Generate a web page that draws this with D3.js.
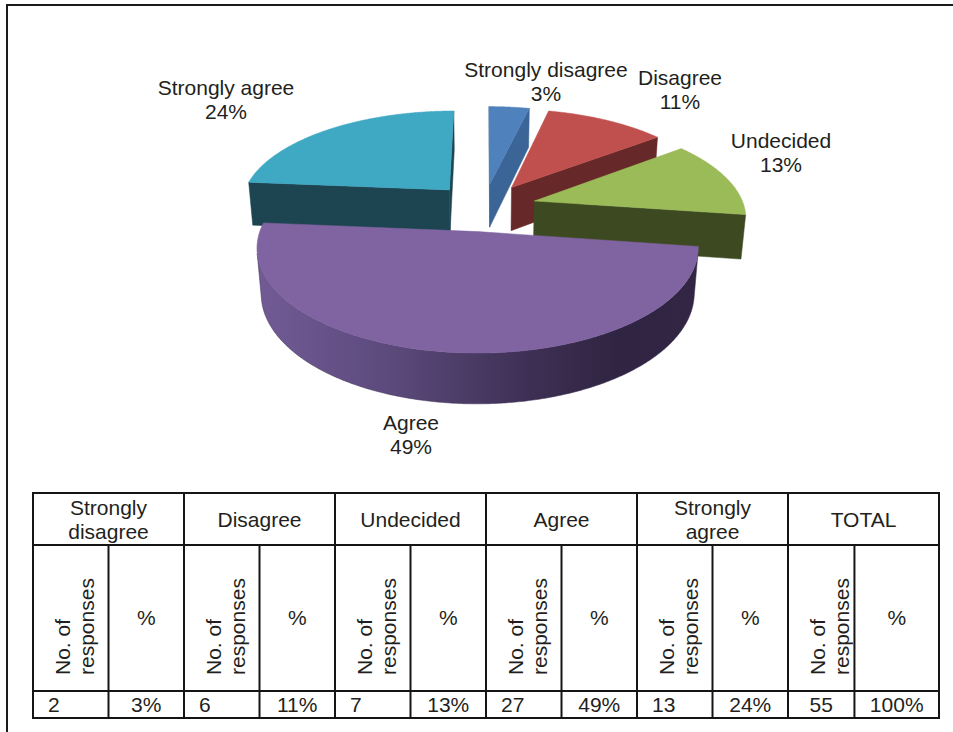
<!DOCTYPE html>
<html>
<head>
<meta charset="utf-8">
<script src="https://cdn.jsdelivr.net/npm/d3@7"></script>
<style>
  html, body { margin: 0; padding: 0; background: #fff; }
  svg { display: block; }
  text { font-family: "Liberation Sans", Arial, Helvetica, sans-serif; fill: #231f20; }
</style>
</head>
<body>
<svg id="chart" width="953" height="732"></svg>
<script>
// ---- survey data ----
const categories = ["Strongly disagree", "Disagree", "Undecided", "Agree", "Strongly agree"];
const responses = [2, 6, 7, 27, 13];
const percents = ["3%", "11%", "13%", "49%", "24%"];
const totalResponses = 55;
const totalPercent = "100%";
const headerLines = [["Strongly", "disagree"], ["Disagree"], ["Undecided"], ["Agree"], ["Strongly", "agree"], ["TOTAL"]];
const subHeaderLines = ["No. of", "responses"];

// ---- styling ----
const topFill = ["#4f81bd", "#c0504d", "#9bbb59", "#8064a2", "#3fa8c3"];
const wallFill = ["#3b6597", "#662828", "#3d4a21", "url(#agreeWall)", "#1d4451"];
const labelLayout = [[546, 77], [680, 85], [781, 148], [411, 430], [226, 95]];

const svg = d3.select("#chart");
const defs = svg.append("defs");

// outer frame (left and top rules)
svg.append("line").attr("x1", 7).attr("y1", 5).attr("x2", 953).attr("y2", 5)
  .attr("stroke", "#1a1a1a").attr("stroke-width", 2);
svg.append("line").attr("x1", 7).attr("y1", 4).attr("x2", 7).attr("y2", 732)
  .attr("stroke", "#1a1a1a").attr("stroke-width", 2);

// ---- exploded 3D pie ----
const pie = d3.pie().sort(null).value(d => d);
const arcs = pie(responses);

// perspective camera: pie plane is y = 0, z points away from the viewer
const cam = { cx: 484, cy: 207, scale: 210, dist: 6, tilt: 27 * Math.PI / 180 };
const thickness = 0.24, explode = 0.25;

function project(X, Y, Z) {
  const yc = Y * Math.cos(cam.tilt) + Z * Math.sin(cam.tilt);
  const d = cam.dist + Z * Math.cos(cam.tilt) - Y * Math.sin(cam.tilt);
  return [cam.cx + cam.scale * cam.dist * X / d, cam.cy - cam.scale * cam.dist * yc / d];
}
const camZ = -cam.dist * Math.cos(cam.tilt);

const line = d3.line().curve(d3.curveLinearClosed);

function buildSlice(a, i) {
  const mid = (a.startAngle + a.endAngle) / 2;
  const ox = explode * Math.sin(mid), oz = explode * Math.cos(mid);
  const P = (r, t, y) => project(ox + r * Math.sin(t), y, oz + r * Math.cos(t));
  const pieces = [];

  // flat cut faces at the two radial edges
  const cuts = [
    { t: a.startAngle, n: [-Math.cos(a.startAngle), Math.sin(a.startAngle)] },
    { t: a.endAngle, n: [Math.cos(a.endAngle), -Math.sin(a.endAngle)] }
  ];
  cuts.forEach(c => {
    if (c.n[0] * (0 - ox) + c.n[1] * (camZ - oz) > 0) {
      pieces.push({ d: line([P(0, c.t, 0), P(1, c.t, 0), P(1, c.t, -thickness), P(0, c.t, -thickness)]),
                    fill: wallFill[i] === "url(#agreeWall)" ? "#3a2d50" : wallFill[i] });
    }
  });

  // curved outer wall, only where it faces the camera
  const steps = Math.max(8, Math.ceil((a.endAngle - a.startAngle) / (Math.PI / 360)));
  const run = [];
  for (let k = 0; k <= steps; k++) {
    const t = a.startAngle + (a.endAngle - a.startAngle) * k / steps;
    const X = ox + Math.sin(t), Z = oz + Math.cos(t);
    const facing = Math.sin(t) * (0 - X) + Math.cos(t) * (camZ - Z) > 0;
    if (facing) run.push(t);
  }
  if (run.length > 1) {
    const topPts = run.map(t => P(1, t, 0));
    const botPts = run.map(t => P(1, t, -thickness)).reverse();
    pieces.push({ d: line(topPts.concat(botPts)), fill: wallFill[i], rim: true, xs: topPts.map(p => p[0]) });
  }

  // top face
  const rimPts = d3.range(steps + 1).map(k => P(1, a.startAngle + (a.endAngle - a.startAngle) * k / steps, 0));
  pieces.push({ d: line([P(0, a.startAngle, 0)].concat(rimPts)), fill: topFill[i] });
  return { i, oz, pieces };
}

const slices = arcs.map(buildSlice).sort((p, q) => q.oz - p.oz);

// shaded wall for the large front slice
const agreeRim = slices.find(s => s.i === 3).pieces.find(p => p.rim);
const grad = defs.append("linearGradient").attr("id", "agreeWall")
  .attr("gradientUnits", "userSpaceOnUse")
  .attr("x1", d3.min(agreeRim.xs)).attr("x2", d3.max(agreeRim.xs)).attr("y1", 0).attr("y2", 0);
[[0, "#725b95"], [0.3, "#5c4a7c"], [0.6, "#3f3156"], [0.82, "#2f2441"], [1, "#322644"]]
  .forEach(([o, c]) => grad.append("stop").attr("offset", o).attr("stop-color", c));

const pieG = svg.append("g");
slices.forEach(s => {
  const g = pieG.append("g").attr("class", "slice");
  s.pieces.forEach(p => {
    g.append("path").attr("d", p.d).attr("fill", p.fill)
      .attr("stroke", p.fill.startsWith("url") ? "#3a2d50" : p.fill).attr("stroke-width", 0.5)
      .attr("stroke-linejoin", "round");
  });
});

// slice labels
const labels = svg.append("g").attr("font-size", 21).attr("text-anchor", "middle");
categories.forEach((c, i) => {
  const [x, y] = labelLayout[i];
  labels.append("text").attr("x", x).attr("y", y).text(c);
  labels.append("text").attr("x", x).attr("y", y + 24).text(percents[i]);
});

// ---- response table ----
const table = { left: 33, right: 939, top: 493, head: 545, dataTop: 691, bottom: 718 };
const groups = headerLines.map((h, i) => i);
const colX = d3.scaleBand().domain(groups).range([table.left, table.right]);
const splitRatio = i => (i === groups.length - 1 ? 0.44 : 0.5);
const splitX = i => colX(i) + colX.bandwidth() * splitRatio(i);

const tg = svg.append("g").attr("font-size", 21);
const stroke = "#151515";
const hl = (x1, x2, y) => tg.append("line").attr("x1", x1).attr("x2", x2).attr("y1", y).attr("y2", y)
  .attr("stroke", stroke).attr("stroke-width", 2);
const vl = (x, y1, y2) => tg.append("line").attr("x1", x).attr("x2", x).attr("y1", y1).attr("y2", y2)
  .attr("stroke", stroke).attr("stroke-width", 2);

[table.top, table.head, table.dataTop, table.bottom].forEach(y => hl(table.left - 1, table.right + 1, y));
groups.forEach(i => vl(colX(i), table.top, table.bottom));
vl(table.right, table.top, table.bottom);
groups.forEach(i => vl(splitX(i), table.head, table.bottom));

const counts = responses.concat([totalResponses]);
const pcts = percents.concat([totalPercent]);

groups.forEach(i => {
  const cx = colX(i) + colX.bandwidth() / 2;
  const lines = headerLines[i];
  lines.forEach((t, k) => {
    const y = lines.length === 1 ? 527 : 515 + k * 24;
    tg.append("text").attr("x", cx).attr("y", y).attr("text-anchor", "middle").text(t);
  });
  // rotated sub-header
  subHeaderLines.forEach((t, k) => {
    tg.append("text").attr("text-anchor", "start")
      .attr("transform", `translate(${colX(i) + 37 + k * 24},${675}) rotate(-90)`).text(t);
  });
  const pcx = (splitX(i) + colX(i) + colX.bandwidth()) / 2;
  tg.append("text").attr("x", pcx).attr("y", 625).attr("text-anchor", "middle").text("%");

  // data row
  if (i === groups.length - 1) {
    tg.append("text").attr("x", (colX(i) + splitX(i)) / 2).attr("y", 712).attr("text-anchor", "middle").text(counts[i]);
  } else {
    tg.append("text").attr("x", colX(i) + 15).attr("y", 712).attr("text-anchor", "start").text(counts[i]);
  }
  tg.append("text").attr("x", pcx).attr("y", 712).attr("text-anchor", "middle").text(pcts[i]);
});
</script>
</body>
</html>
